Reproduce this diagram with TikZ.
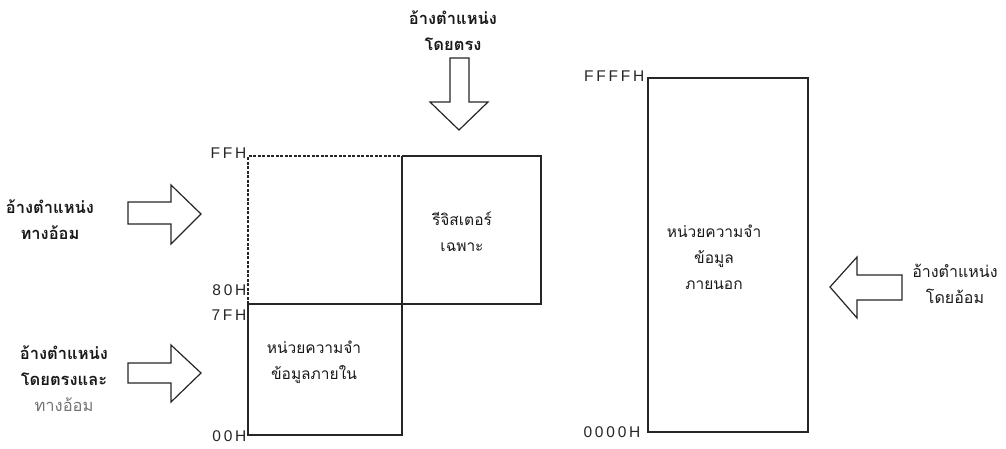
\documentclass[tikz,border=0pt]{standalone}
\usepackage{fontspec}
\newfontfamily\thaifont[Script=Thai]{Loma}
\newfontfamily\hexfont[LetterSpace=18]{Liberation Sans}
\begin{document}
\begin{tikzpicture}[x=1pt,y=-1pt,line width=1.2pt,
  box/.style={draw=black!85},
  dashbox/.style={draw=black!85,dash pattern=on 3pt off 1.5pt},
  blockarrow/.style={draw=black!85,line width=1.2pt,line join=miter,fill=white},
  thaitxt/.style={font=\thaifont\fontsize{15.5}{26}\selectfont,text=black!90,align=center,inner sep=0pt},
  thaibold/.style={font=\thaifont\bfseries\fontsize{16.5}{26}\selectfont,text=black!90,align=center,inner sep=0pt},
  hex/.style={font=\hexfont\fontsize{15.5}{15.5}\selectfont,text=black!85,inner sep=0pt,anchor=east}]
\useasboundingbox (0,0) rectangle (1006,448);

% corners of the internal memory block
\coordinate (tl) at (248,156);
\coordinate (tm) at (402,156);
\coordinate (tr) at (541,156);
\coordinate (ml) at (248,304);
\coordinate (mm) at (402,304);
\coordinate (mr) at (541,304);
\coordinate (bl) at (248,435);
\coordinate (bm) at (402,435);

\draw[dashbox] (ml) -- (tl) -- (tm);
\draw[box] (tm) -- (tr) -- (mr) -- (ml) -- (bl) -- (bm) -- (tm);

% external memory
\coordinate (etl) at (648,78);
\coordinate (ebr) at (808,432);
\draw[box] (etl) rectangle (ebr);

% address labels
\node[hex] (ffh) at (247,153) {FFH};
\node[hex] (h80) at (247,290) {80H};
\node[hex] (h7f) at (247,315) {7FH};
\node[hex] (h00) at (247,436) {00H};
\node[hex] (ffffh) at (645,76) {FFFFH};
\node[hex] (h0000) at (641,432) {0000H};

% block texts
\node[thaitxt] (reg) at (462,232) {รีจิสเตอร์\\เฉพาะ};
\node[thaitxt] (intm) at (314,362) {หน่วยความจำ\\ข้อมูลภายใน};
\node[thaitxt] (extm) at (714,257) {หน่วยความจำ\\ข้อมูล\\ภายนอก};

% arrows
\draw[blockarrow] (450,58) -- (469,58) -- (469,102) -- (488,102) -- (459,130)
  -- (430,102) -- (450,102) -- cycle;
\draw[blockarrow] (128,202) -- (171,202) -- (171,185) -- (201,214) -- (171,244)
  -- (171,224) -- (128,224) -- cycle;
\draw[blockarrow] (128,363) -- (171,363) -- (171,345) -- (201,373) -- (171,402)
  -- (171,383) -- (128,383) -- cycle;
\draw[blockarrow] (902,275) -- (857,275) -- (857,257) -- (830,287) -- (857,318)
  -- (857,300) -- (902,300) -- cycle;

% arrow labels
\node[thaibold] (ldirect) at (453,31) {อ้างตำแหน่ง\\โดยตรง};
\node[thaibold] (lindirect) at (50,220) {อ้างตำแหน่ง\\ทางอ้อม};
\node[thaibold] (lboth) at (64,379) {อ้างตำแหน่ง\\โดยตรงและ\\{\color{black!55}\mdseries ทางอ้อม}};
\node[thaitxt,font=\thaifont\fontsize{16}{26}\selectfont] (lext) at (955,284) {อ้างตำแหน่ง\\โดยอ้อม};
\end{tikzpicture}
\end{document}
